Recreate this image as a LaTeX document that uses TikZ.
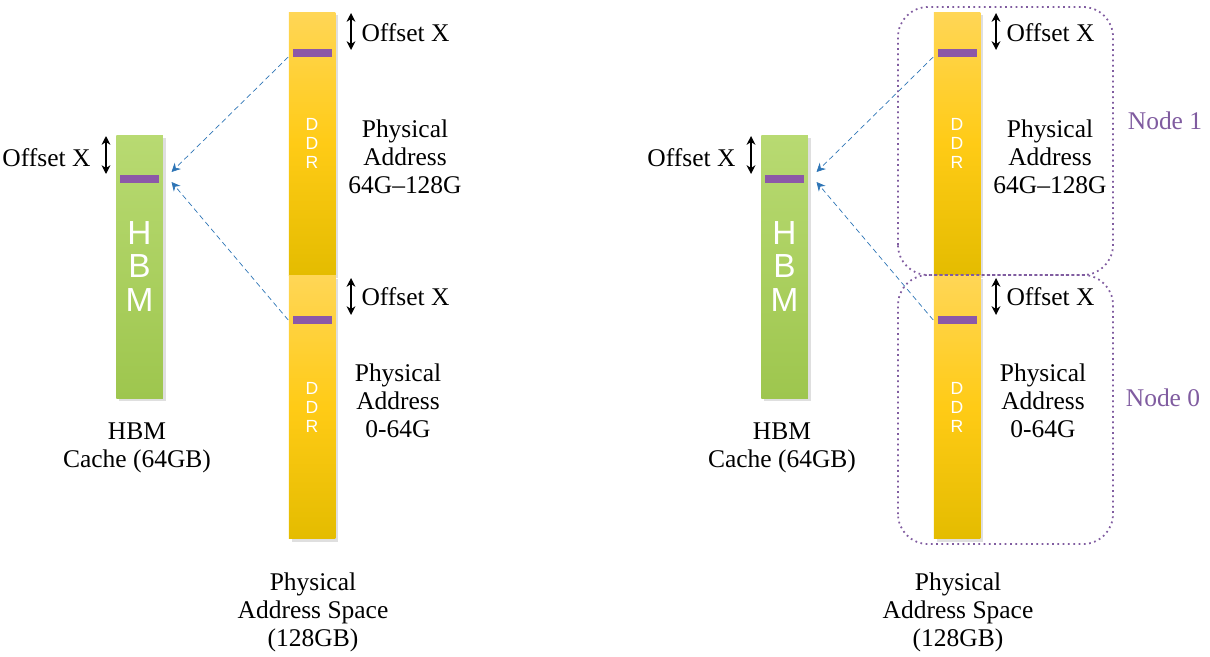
\documentclass[tikz,border=0pt]{standalone}
\usepackage{amsmath}
\usepackage{fontspec}
\setmainfont{Liberation Serif}
\setsansfont{Liberation Sans}
\usepackage{tkz-euclide}
\usetikzlibrary{arrows,arrows.meta,shadows}
\definecolor{hbmtop}{RGB}{184,218,114}
\definecolor{hbmbot}{RGB}{158,198,78}
\definecolor{ddrtop}{RGB}{255,214,86}
\definecolor{ddrmid}{RGB}{255,203,22}
\definecolor{ddrbot}{RGB}{228,188,0}
\definecolor{slotpurple}{RGB}{140,88,168}
\definecolor{linkblue}{RGB}{46,117,182}
\definecolor{nodepurple}{RGB}{128,92,160}
\begin{document}
\begin{tikzpicture}[semithick,
bar/.style={minimum width=0.93cm,minimum height=5.26cm,inner sep=0pt,text=white,align=center,
drop shadow={shadow xshift=0.06cm,shadow yshift=-0.06cm,opacity=0.25}},
hbmbar/.style={bar,top color=hbmtop,bottom color=hbmbot,font=\fontsize{19}{18.8}\selectfont\sffamily},
ddrbar/.style={bar,top color=ddrtop,bottom color=ddrbot,middle color=ddrmid,font=\fontsize{10}{10.8}\selectfont\sffamily},
slot/.style={fill=slotpurple,minimum width=0.78cm,minimum height=0.16cm,inner sep=0pt},
link/.style={linkblue,densely dashed,thin,-{Stealth[length=5pt,width=5pt]}},
offs/.style={{Stealth[length=5pt,width=5pt]}-{Stealth[length=5pt,width=5pt]},thick},
lbl/.style={font=\fontsize{14.5}{16}\selectfont,align=center,inner sep=0pt},
grp/.style={nodepurple,dotted,line width=1pt,rounded corners=0.6cm}]
\useasboundingbox(0,0)rectangle(24.2,13.12);
\tkzDefPoints{2.12/10.40/p1,2.12/9.64/q1,7.02/12.86/p2,7.02/12.12/q2,7.02/7.56/p3,7.02/6.82/q3}
\tkzDefPoints{15.02/10.40/P1,15.02/9.64/Q1,19.92/12.86/P2,19.92/12.12/Q2,19.92/7.56/P3,19.92/6.82/Q3}
\node[hbmbar](hbm1)at(2.79,7.79){H\\B\\M};
\node[ddrbar](ddrA1)at(6.24,10.25){D\\D\\R};
\node[ddrbar](ddrB1)at(6.24,4.98){D\\D\\R};
\node[slot](slh1)at(2.79,9.54){};
\node[slot](slA1)at(6.24,12.07){};
\node[slot](slB1)at(6.24,6.72){};
\draw[offs](p1)--(q1);
\draw[offs](p2)--(q2);
\draw[offs](p3)--(q3);
\draw[link](ddrA1.west|-slA1.south)--([shift={(0.24,0.14)}]slh1.east);
\draw[link](ddrB1.west|-slB1)--([shift={(0.24,-0.06)}]slh1.east);
\node[lbl,anchor=east](oh1)at(1.82,9.96){Offset X};
\node[lbl,anchor=west](oa1)at(7.22,12.46){Offset X};
\node[lbl,anchor=west](ob1)at(7.22,7.18){Offset X};
\node[lbl](pa1)at(8.10,9.98){Physical\\Address\\64G–128G};
\node[lbl](pb1)at(7.96,5.10){Physical\\Address\\0-64G};
\node[lbl](hc1)at(2.74,4.17){HBM\\Cache (64GB)};
\node[lbl](as1)at(6.26,0.88){Physical\\Address Space\\(128GB)};
\node[hbmbar](hbm2)at(15.69,7.79){H\\B\\M};
\node[ddrbar](ddrA2)at(19.14,10.25){D\\D\\R};
\node[ddrbar](ddrB2)at(19.14,4.98){D\\D\\R};
\node[slot](slh2)at(15.69,9.54){};
\node[slot](slA2)at(19.14,12.07){};
\node[slot](slB2)at(19.14,6.72){};
\draw[offs](P1)--(Q1);
\draw[offs](P2)--(Q2);
\draw[offs](P3)--(Q3);
\draw[link](ddrA2.west|-slA2.south)--([shift={(0.24,0.14)}]slh2.east);
\draw[link](ddrB2.west|-slB2)--([shift={(0.24,-0.06)}]slh2.east);
\draw[grp](17.96,7.62)rectangle(22.26,12.98);
\draw[grp](17.96,2.24)rectangle(22.26,7.62);
\node[lbl,anchor=east](oh2)at(14.72,9.96){Offset X};
\node[lbl,anchor=west](oa2)at(20.12,12.46){Offset X};
\node[lbl,anchor=west](ob2)at(20.12,7.18){Offset X};
\node[lbl](pa2)at(21.00,9.98){Physical\\Address\\64G–128G};
\node[lbl](pb2)at(20.86,5.10){Physical\\Address\\0-64G};
\node[lbl](hc2)at(15.64,4.17){HBM\\Cache (64GB)};
\node[lbl](as2)at(19.16,0.88){Physical\\Address Space\\(128GB)};
\node[lbl,text=nodepurple](n1)at(23.30,10.70){Node 1};
\node[lbl,text=nodepurple](n0)at(23.26,5.16){Node 0};
\end{tikzpicture}
\end{document}
